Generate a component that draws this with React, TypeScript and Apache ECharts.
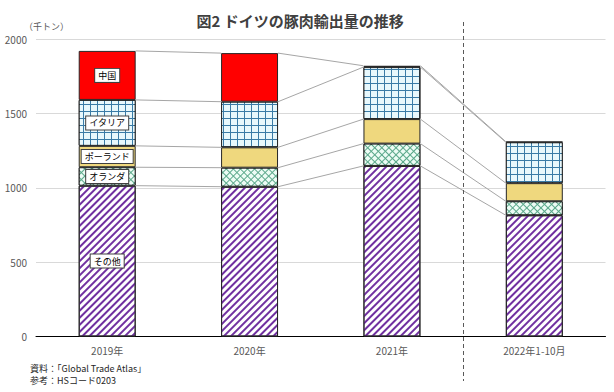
import React, { useEffect, useRef } from "react";
import * as echarts from "echarts";

const categories = ["2019年", "2020年", "2021年", "2022年1-10月"];
const seriesNames = ["その他", "オランダ", "ポーランド", "イタリア", "中国"];
const other = [1015, 1008, 1148, 816];
const netherlands = [124, 128, 150, 94];
const poland = [144, 137, 165, 122];
const italy = [309, 307, 350, 275];
const china = [330, 327, 9, 4];
const yTicks = { min: 0, max: 2000, interval: 500 };
const title = "図2 ドイツの豚肉輸出量の推移";
const unit = "（千トン）";
const notes = ["資料：「Global Trade Atlas」", "参考：HSコード0203"];

const FONT = "'Noto Sans CJK JP', 'Noto Sans', sans-serif";
const BAR_FRAC = 0.4;

export default function App() {
  const ref = useRef<HTMLDivElement>(null);
  useEffect(() => {
    if (!ref.current) return;
    const chart = echarts.init(ref.current, undefined, { renderer: "svg" });
    const values = [other, netherlands, poland, italy, china];

    const styles: any[] = [
      {
        color: "#ffffff",
        decal: {
          symbol: "rect",
          symbolSize: 1,
          color: "#7030A0",
          dashArrayX: [[1, 0]],
          dashArrayY: [1.3, 3],
          rotation: -Math.PI / 4,
        },
      },
      {
        color: "#5AA88A",
        decal: {
          symbol: "rect",
          symbolSize: 1,
          color: "#EDFCF5",
          dashArrayX: [4, 0.8],
          dashArrayY: [4, 0.8],
          rotation: Math.PI / 4,
        },
      },
      { color: "#EFD87E" },
      {
        color: "#3A7BA6",
        decal: {
          symbol: "rect",
          symbolSize: 1,
          color: "#E8F8FC",
          dashArrayX: [5.5, 0.8],
          dashArrayY: [5.5, 0.8],
          rotation: 0,
        },
      },
      { color: "#FF0000" },
    ];

    const barSeries = values.map((vals, si) => ({
      type: "bar",
      name: seriesNames[si],
      stack: "total",
      barWidth: BAR_FRAC * 100 + "%",
      z: 3,
      itemStyle: { ...styles[si], borderColor: "#262626", borderWidth: 1 },
      data: vals.map((v, i) =>
        i === 0
          ? {
              value: v,
              label: {
                show: true,
                position: "inside",
                formatter: seriesNames[si],
                fontFamily: FONT,
                fontSize: 9,
                color: "#000",
                backgroundColor: "#fff",
                borderColor: "#404040",
                borderWidth: 1,
                padding: [2, 3],
              },
            }
          : v
      ),
    }));

    const cum: number[][] = categories.map((_, i) => {
      let s = 0;
      return values.map((vals) => (s += vals[i]));
    });
    const lineData: number[][] = [];
    for (let i = 0; i < categories.length - 1; i++) {
      for (let k = 0; k < values.length; k++) {
        lineData.push([i, cum[i][k], cum[i + 1][k]]);
      }
    }

    const option: any = {
      animation: false,
      textStyle: { fontFamily: FONT },
      title: {
        text: title,
        left: 295,
        textAlign: "center",
        top: 8,
        textStyle: { fontFamily: FONT, fontSize: 15, fontWeight: "bold", color: "#404040" },
      },
      grid: { left: 36, right: 8.5, top: 39.3, bottom: 55.5, containLabel: false },
      xAxis: {
        type: "category",
        data: categories,
        axisLine: { lineStyle: { color: "#000", width: 1 } },
        axisTick: { show: false },
        axisLabel: { color: "#595959", fontSize: 10, margin: 9, fontFamily: FONT },
      },
      yAxis: {
        type: "value",
        ...yTicks,
        axisLine: { show: false },
        axisTick: { show: false },
        axisLabel: {
          color: "#595959",
          fontSize: 10,
          margin: 9,
          fontFamily: FONT,
          formatter: (v: number) => String(v),
        },
        splitLine: { lineStyle: { color: "#D9D9D9", width: 1 } },
      },
      series: [
        ...barSeries,
        {
          type: "custom",
          z: 2,
          silent: true,
          data: lineData,
          renderItem: (params: any, api: any) => {
            const i = api.value(0);
            const p1 = api.coord([i, api.value(1)]);
            const p2 = api.coord([i + 1, api.value(2)]);
            const bw = api.size([1, 0])[0] * BAR_FRAC;
            return {
              type: "line",
              shape: { x1: p1[0] + bw / 2, y1: p1[1], x2: p2[0] - bw / 2, y2: p2[1] },
              style: { stroke: "#A6A6A6", lineWidth: 1 },
            };
          },
        },
      ],
      graphic: [
        {
          type: "text",
          left: 24,
          top: 22,
          style: { text: unit, fontFamily: FONT, fontSize: 9, fill: "#595959" },
        },
        {
          type: "text",
          left: 30,
          top: 364,
          style: { text: notes[0], fontFamily: FONT, fontSize: 9, fill: "#262626" },
        },
        {
          type: "text",
          left: 30,
          top: 376,
          style: { text: notes[1], fontFamily: FONT, fontSize: 9, fill: "#262626" },
        },
      ],
    };
    chart.setOption(option);

    const c2 = chart.convertToPixel({ xAxisIndex: 0 }, categories[2]) as number;
    const c3 = chart.convertToPixel({ xAxisIndex: 0 }, categories[3]) as number;
    const dx = Math.round((c2 + c3) / 2) + 0.5;
    chart.setOption({
      graphic: [
        ...option.graphic,
        {
          type: "line",
          z: 10,
          shape: { x1: dx, y1: 22, x2: dx, y2: 381 },
          style: { stroke: "#595959", lineWidth: 1, lineDash: [4, 3] },
        },
      ],
    });

    return () => chart.dispose();
  }, []);
  return <div ref={ref} style={{ width: 614, height: 392, position: "absolute", left: 0, top: 0 }} />;
}
